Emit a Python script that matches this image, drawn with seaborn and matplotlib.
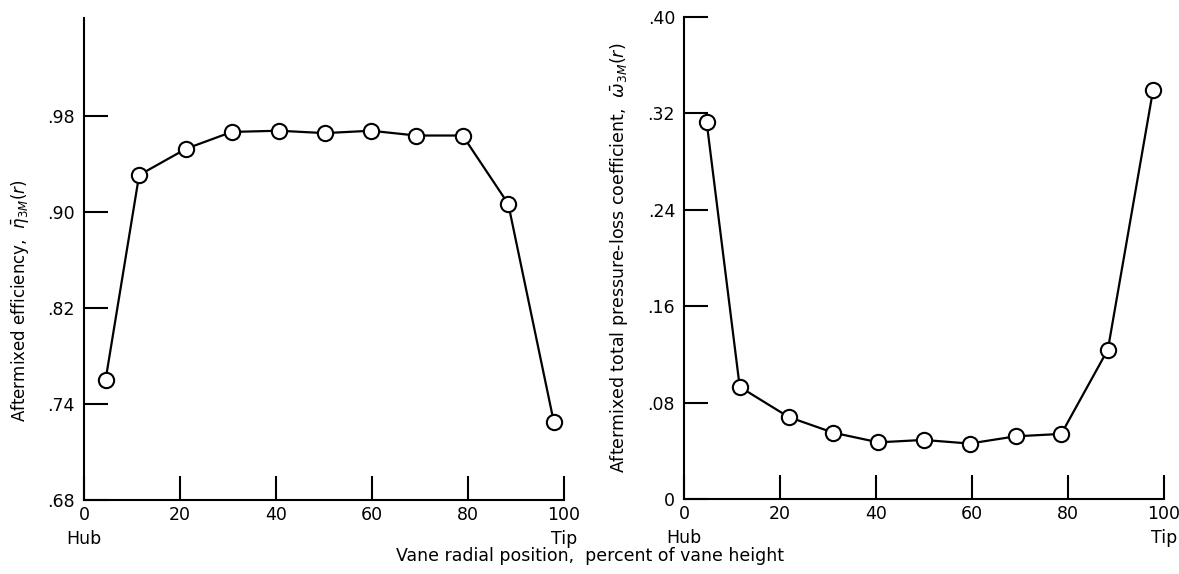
import matplotlib
matplotlib.use("Agg")
import matplotlib.pyplot as plt
import seaborn as sns
import pandas as pd

sns.set_theme(style="white")
plt.rcParams['font.family'] = ['DejaVu Sans']
plt.rcParams['mathtext.fontset'] = 'dejavusans'

# radial position, percent of vane height
position_eff = [4.5, 11.5, 21.3, 30.8, 40.6, 50.2, 59.8, 69.2, 78.9, 88.4, 97.9]
efficiency = [0.760, 0.931, 0.953, 0.967, 0.968, 0.966, 0.968, 0.964, 0.964, 0.907, 0.725]

position_loss = [4.7, 11.6, 21.8, 31.1, 40.5, 49.9, 59.5, 69.1, 78.6, 88.3, 97.7]
loss_coeff = [0.313, 0.093, 0.068, 0.055, 0.047, 0.049, 0.046, 0.052, 0.054, 0.124, 0.339]

x_ticks = [0, 20, 40, 60, 80, 100]
x_ticklabels = ["0", "20", "40", "60", "80", "100"]
end_labels = {0: "Hub", 100: "Tip"}
eff_ticks = [0.66, 0.74, 0.82, 0.90, 0.98]
eff_ticklabels = [".68", ".74", ".82", ".90", ".98"]
loss_ticks = [0, 0.08, 0.16, 0.24, 0.32, 0.40]
loss_ticklabels = ["0", ".08", ".16", ".24", ".32", ".40"]

df_eff = pd.DataFrame({"pos": position_eff, "val": efficiency})
df_loss = pd.DataFrame({"pos": position_loss, "val": loss_coeff})

fig = plt.figure(figsize=(11.79, 5.74), dpi=100)
ax1 = fig.add_axes([0.0712, 0.1289, 0.4071, 0.8397])
ax2 = fig.add_axes([0.5802, 0.1307, 0.4071, 0.8397])

style = dict(color="black", linewidth=1.6, marker="o", markersize=11,
             markerfacecolor="white", markeredgecolor="black", markeredgewidth=1.5)

for ax, df, yt, ytl, ylim in [
    (ax1, df_eff, eff_ticks, eff_ticklabels, (0.66, 1.062)),
    (ax2, df_loss, loss_ticks, loss_ticklabels, (0, 0.40)),
]:
    sns.lineplot(data=df, x="pos", y="val", ax=ax, **style)
    ax.set_xlim(0, 100)
    ax.set_ylim(*ylim)
    ax.set_xticks(x_ticks)
    ax.set_xticklabels(x_ticklabels)
    ax.set_yticks(yt)
    ax.set_yticklabels(ytl)
    for s in ["top", "right"]:
        ax.spines[s].set_visible(False)
    for s in ["left", "bottom"]:
        ax.spines[s].set_color("black")
        ax.spines[s].set_linewidth(1.5)
    ax.tick_params(direction="in", length=17, width=1.5, color="black",
                   labelsize=12.5, labelcolor="black", left=True, bottom=True)
    ax.tick_params(axis="x", pad=4)
    ax.tick_params(axis="y", pad=6.5)
    ax.set_xlabel("")
    # Hub / Tip under the end ticks
    for xv, txt in end_labels.items():
        ax.text(xv, -0.062, txt, transform=ax.get_xaxis_transform(),
                ha="center", va="top", fontsize=12.5, color="black")

ax1.set_ylabel(r"Aftermixed efficiency,  $\bar{\eta}_{3M}(r)$", fontsize=12, color="black")
ax1.yaxis.set_label_coords(-0.11, 0.413)
ax2.set_ylabel(r"Aftermixed total pressure-loss coefficient,  $\bar{\omega}_{3M}(r)$",
               fontsize=12.5, color="black")
ax2.yaxis.set_label_coords(-0.112, 0.5)

fig.text(0.5, 0.023, "Vane radial position,  percent of vane height",
         ha="center", va="baseline", fontsize=12.5, color="black")

fig.savefig("out.png", dpi=100)
